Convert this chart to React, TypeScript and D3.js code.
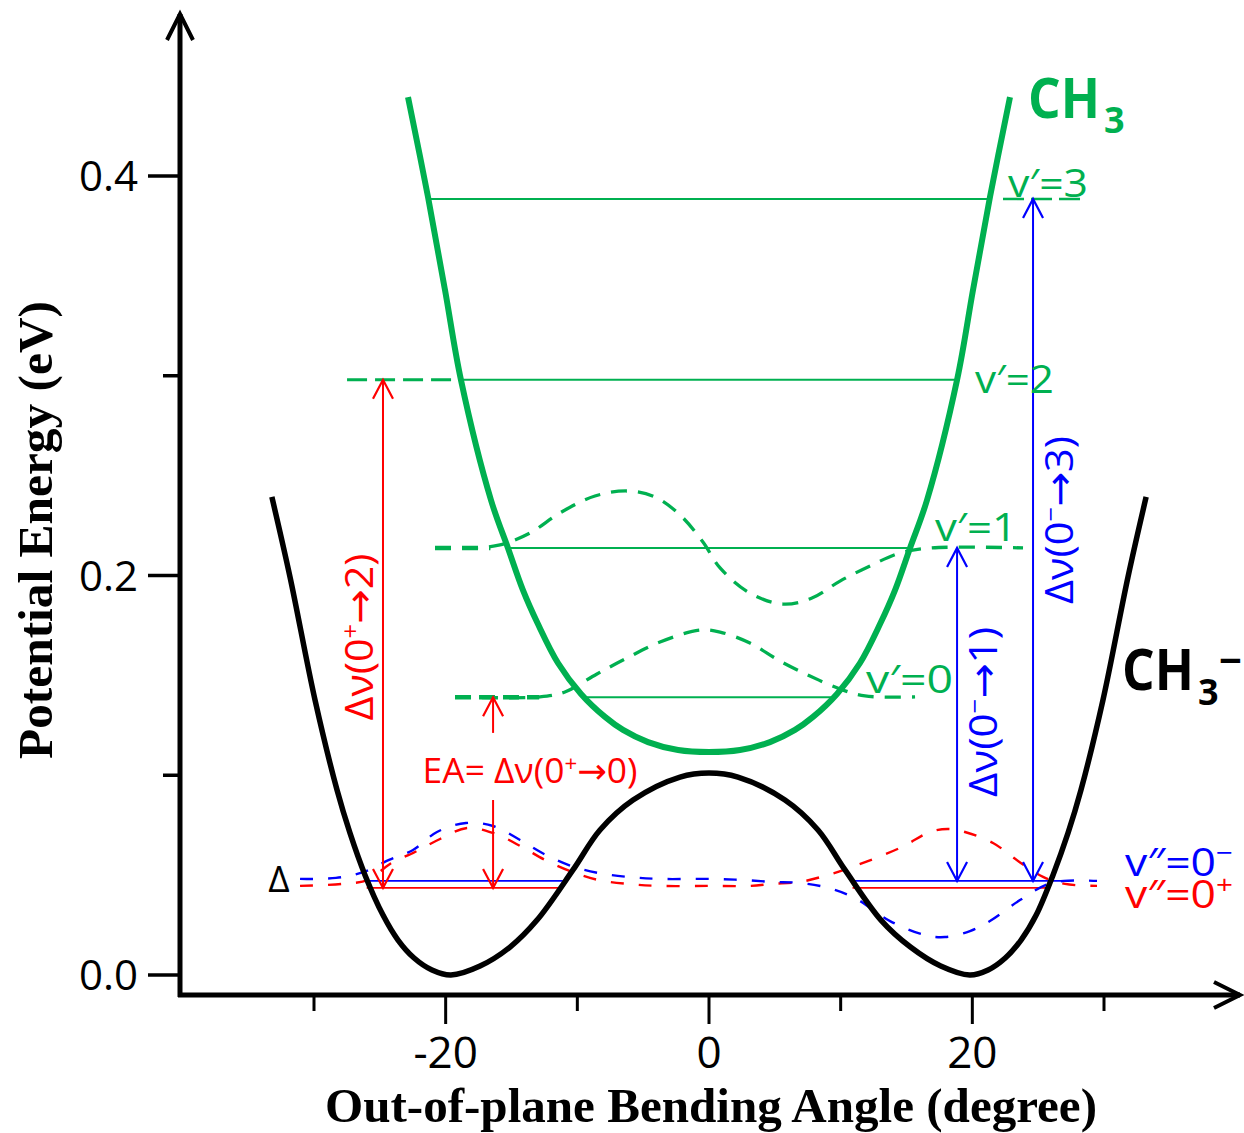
import React from 'react';
import * as d3 from 'd3';

const W = 1244;
const H = 1133;
const GREEN = '#00B050';
const RED = '#FF0000';
const BLUE = '#0000FF';
const SANS = '"Open Sans", "DejaVu Sans", sans-serif';
const SERIF = '"Liberation Serif", "Times New Roman", serif';

// axis ticks
const angleTicks = [-30, -20, -10, 0, 10, 20, 30];
const angleLabelValues = [-20, 0, 20];
const angleTickLabels = ['-20', '0', '20'];
const energyTicks = [0, 0.1, 0.2, 0.3, 0.4];
const energyLabelValues = [0, 0.2, 0.4];
const energyTickLabels = ['0.0', '0.2', '0.4'];

// CH3- potential (black)
const anionAngle = [-33.2, -31.82, -29.92, -28.25, -27.27, -26.13, -24.76, -23.62, -22.4, -21.04, -19.6, -17.39, -15.11, -13.06, -10.33, -8.28, -5.77, -2.2, 0, 2.2, 5.77, 8.28, 10.33, 13.06, 15.3, 17.6, 19.8, 21.2, 22.5, 23.7, 24.85, 26.13, 27.27, 28.25, 29.92, 31.82, 33.2];
const anionEnergy = [0.2393, 0.1992, 0.1376, 0.0926, 0.0711, 0.0501, 0.03, 0.0175, 0.0085, 0.0025, 0, 0.0045, 0.014, 0.0275, 0.0526, 0.0726, 0.0876, 0.0991, 0.1011, 0.0991, 0.0876, 0.0726, 0.0526, 0.0275, 0.014, 0.0045, 0, 0.0025, 0.0085, 0.0175, 0.03, 0.0501, 0.0711, 0.0926, 0.1376, 0.1992, 0.2393];

// CH3 potential (green)
const neutralAngle = [-22.86, -21.34, -20.05, -18.84, -16.56, -15.27, -14.13, -12.99, -11.47, -9.72, -7.9, -6.53, -4.63, -2.35, 0, 2.35, 4.63, 6.53, 7.9, 9.72, 11.47, 12.99, 14.13, 15.27, 16.56, 18.84, 20.05, 21.34, 22.86];
const neutralEnergy = [0.4395, 0.3895, 0.3429, 0.2979, 0.2378, 0.2138, 0.1927, 0.1757, 0.1562, 0.1407, 0.1292, 0.1227, 0.1166, 0.1126, 0.1116, 0.1126, 0.1166, 0.1227, 0.1292, 0.1407, 0.1562, 0.1757, 0.1927, 0.2138, 0.2378, 0.2979, 0.3429, 0.3895, 0.4395];

// CH3 vibrational levels v'=0..3
const neutralLevelNames = ['v\u2032=0', 'v\u2032=1', 'v\u2032=2', 'v\u2032=3'];
const neutralLevels = [0.139, 0.2138, 0.298, 0.3885];
const neutralLevelEdge = [9.6, 15.3, 18.8, 21.3];

// wavefunction v'=1
const wf1Angle = [-20.81, -18.15, -15.87, -13.59, -11.32, -8.66, -6.15, -4.1, -2.2, -0.46, 0.84, 3.11, 5.62, 7.82, 9.95, 12.23, 14.51, 16.78, 23.85];
const wf1Energy = [0.2138, 0.2138, 0.2153, 0.2213, 0.2313, 0.2398, 0.2423, 0.2393, 0.2303, 0.2168, 0.2038, 0.1912, 0.1857, 0.1887, 0.1972, 0.2048, 0.2113, 0.2138, 0.2138];

// wavefunction v'=0
const wf0Angle = [-19.29, -12.84, -10.94, -8.51, -6.23, -3.72, -0.68, 0.84, 3.11, 5.39, 7.67, 9.95, 11.85, 15.65];
const wf0Energy = [0.1392, 0.1392, 0.1417, 0.1507, 0.1587, 0.1667, 0.1727, 0.1717, 0.1662, 0.1572, 0.1497, 0.1432, 0.1397, 0.1392];

// anion wavefunction v''=0+
const plusAngle = [-31.06, -27.87, -25.9, -24.23, -22.33, -20.43, -18.38, -16.4, -14.2, -12.46, -10.4, -8.43, -6.15, -3.72, 0, 3.11, 4.78, 6.91, 9.04, 11.09, 14.66, 16.78, 18.15, 19.44, 21.57, 23.47, 25.37, 27.04, 29.47];
const plusEnergy = [0.0446, 0.0456, 0.0476, 0.0556, 0.0616, 0.0681, 0.0736, 0.0711, 0.0641, 0.0576, 0.0516, 0.0476, 0.0456, 0.0446, 0.0446, 0.0446, 0.0456, 0.0466, 0.0501, 0.0546, 0.0641, 0.0716, 0.0731, 0.0716, 0.0661, 0.0571, 0.0491, 0.0456, 0.0446];

// anion wavefunction v''=0-
const minusAngle = [-31.06, -28.33, -26.2, -24.3, -22.48, -20.66, -18.46, -16.4, -14.35, -12.53, -10.48, -8.43, -6.15, -3.72, 0, 2.51, 4.78, 6.91, 9.04, 11.09, 13.75, 16.4, 17.92, 19.82, 21.34, 23.62, 25.59, 26.96, 29.47];
const minusEnergy = [0.0481, 0.0486, 0.0516, 0.0576, 0.0626, 0.0716, 0.0761, 0.0746, 0.0676, 0.0606, 0.0546, 0.0511, 0.0491, 0.0481, 0.0481, 0.0476, 0.0466, 0.0461, 0.0436, 0.0385, 0.027, 0.02, 0.019, 0.022, 0.027, 0.0375, 0.0451, 0.0471, 0.0471];

// anion levels (solid segments inside the wells)
const anionLevelEnergy = [0.0436, 0.0471]; // 0+, 0-
const anionLeftSpan = [[-26.0, -11.1], [-26.1, -11.1]];
const anionRightSpan = [[10.9, 25.9], [10.9, 26.9]];

// transition arrows
const arrowAngle = [-24.76, 18.84, 24.61];
const arrowFrom = [0.0436, 0.0471, 0.0471];
const arrowTo = [0.298, 0.2138, 0.3885];
const arrowLabelE = [0.1692, 0.1317, 0.2278];
const arrowFinal = ['2', '1', '3'];
const arrowInitialSign = ['+', '\u2212', '\u2212'];

// EA arrow
const eaAngle = -16.4;
const eaGapTop = 0.1212;
const eaGapBottom = 0.0876;

// dashed guide extensions
const v2GuideSpan = [-27.49, -19.29];
const v3GuideSpan = [22.33, 28.56];
const v1TailSpan = [-20.81, -16.6];
const v0TailSpan = [-19.29, -12.9];
const anionSigns = ['+', '\u2212'];

const x = d3.scaleLinear().domain([-30, 30]).range([314, 1104]);
const y = d3.scaleLinear().domain([0, 0.4]).range([975, 176]);

const zip = (a: number[], b: number[]) => a.map((v, i) => [v, b[i]] as [number, number]);
const smooth = d3
  .line<[number, number]>()
  .x((d) => x(d[0]))
  .y((d) => y(d[1]))
  .curve(d3.curveCatmullRom.alpha(0.5));
const straight = d3
  .line<[number, number]>()
  .x((d) => x(d[0]))
  .y((d) => y(d[1]));

function upHead(cx: number, ty: number) {
  return `M${cx - 10},${ty + 19} L${cx},${ty} L${cx + 10},${ty + 19}`;
}
function downHead(cx: number, by: number) {
  return `M${cx - 10},${by - 19} L${cx},${by} L${cx + 10},${by - 19}`;
}

export default function App() {
  const axisX = 180;
  const axisY = 995;
  const colors = [RED, BLUE, BLUE];
  const labelLen = [167, 170, 168];
  return (
    <svg
      width={W}
      height={H}
      viewBox={`0 0 ${W} ${H}`}
      style={{ position: 'absolute', left: 0, top: 0, background: '#fff' }}
    >
      <rect x={0} y={0} width={W} height={H} fill="#fff" />

      {/* axes */}
      <path d={`M${axisX},${axisY + 2} V14`} stroke="#000" strokeWidth={5} fill="none" />
      <path d={`M${axisX - 13},40 L${axisX},14 L${axisX + 13},40`} stroke="#000" strokeWidth={4} fill="none" />
      <path d={`M${axisX - 2},${axisY} H1240`} stroke="#000" strokeWidth={5} fill="none" />
      <path d={`M1214,${axisY - 13} L1240,${axisY} L1214,${axisY + 13}`} stroke="#000" strokeWidth={4} fill="none" />

      {energyTicks.map((t) => {
        const major = energyLabelValues.includes(t);
        return (
          <line key={'ey' + t} x1={major ? axisX - 32 : axisX - 17} x2={axisX} y1={y(t)} y2={y(t)} stroke="#000" strokeWidth={3.5} />
        );
      })}
      {energyLabelValues.map((t, i) => (
        <text key={'el' + t} x={axisX - 42} y={y(t)} dy="0.36em" textAnchor="end" fontFamily={SANS} fontSize={42} fill="#000">
          {energyTickLabels[i]}
        </text>
      ))}

      {angleTicks.map((t) => {
        const major = angleLabelValues.includes(t);
        return (
          <line key={'ax' + t} x1={x(t)} x2={x(t)} y1={axisY} y2={major ? axisY + 29 : axisY + 16} stroke="#000" strokeWidth={3} />
        );
      })}
      {angleLabelValues.map((t, i) => (
        <text key={'al' + t} x={x(t)} y={1068} textAnchor="middle" fontFamily={SANS} fontSize={44} fill="#000">
          {angleTickLabels[i]}
        </text>
      ))}

      <text x={711} y={1122} textAnchor="middle" fontFamily={SERIF} fontWeight="bold" fontSize={49} fill="#000" textLength={772} lengthAdjust="spacingAndGlyphs">
        Out-of-plane Bending Angle (degree)
      </text>
      <text transform={`translate(52,530) rotate(-90)`} textAnchor="middle" fontFamily={SERIF} fontWeight="bold" fontSize={49} fill="#000" textLength={458} lengthAdjust="spacingAndGlyphs">
        Potential Energy (eV)
      </text>

      {/* neutral levels */}
      {neutralLevels.map((e, i) => (
        <path key={'nl' + i} d={straight([[-neutralLevelEdge[i], e], [neutralLevelEdge[i], e]])!} stroke={GREEN} strokeWidth={2} fill="none" />
      ))}
      <path d={straight([[v2GuideSpan[0], neutralLevels[2]], [v2GuideSpan[1], neutralLevels[2]]])!} stroke={GREEN} strokeWidth={3.2} strokeDasharray="20 8" fill="none" />
      <path d={straight([[v3GuideSpan[0], neutralLevels[3]], [v3GuideSpan[1], neutralLevels[3]]])!} stroke={GREEN} strokeWidth={2.5} strokeDasharray="21 7" fill="none" />

      {/* neutral wavefunctions */}
      <path d={smooth(zip(wf1Angle, wf1Energy))!} stroke={GREEN} strokeWidth={3.3} strokeDasharray="16 11" fill="none" />
      <path d={smooth(zip(wf0Angle, wf0Energy))!} stroke={GREEN} strokeWidth={3.3} strokeDasharray="16 11" fill="none" />
      <path d={straight([[v1TailSpan[0], neutralLevels[1]], [v1TailSpan[1], neutralLevels[1]]])!} stroke={GREEN} strokeWidth={4.5} strokeDasharray="16 11" fill="none" />
      <path d={straight([[v0TailSpan[0], neutralLevels[0]], [v0TailSpan[1], neutralLevels[0]]])!} stroke={GREEN} strokeWidth={4.5} strokeDasharray="16 8" fill="none" />

      {/* anion levels */}
      {anionLevelEnergy.map((e, i) => (
        <g key={'alv' + i}>
          <path d={straight([[anionLeftSpan[i][0], e], [anionLeftSpan[i][1], e]])!} stroke={i === 0 ? RED : BLUE} strokeWidth={1.8} fill="none" />
          <path d={straight([[anionRightSpan[i][0], e], [anionRightSpan[i][1], e]])!} stroke={i === 0 ? RED : BLUE} strokeWidth={1.8} fill="none" />
        </g>
      ))}

      {/* anion wavefunctions */}
      <path d={smooth(zip(plusAngle, plusEnergy))!} stroke={RED} strokeWidth={2.4} strokeDasharray="13 15" fill="none" />
      <path d={smooth(zip(minusAngle, minusEnergy))!} stroke={BLUE} strokeWidth={2.4} strokeDasharray="13 15" fill="none" />

      {/* potentials */}
      <path d={smooth(zip(anionAngle, anionEnergy))!} stroke="#000" strokeWidth={5.5} fill="none" />
      <path d={smooth(zip(neutralAngle, neutralEnergy))!} stroke={GREEN} strokeWidth={6} fill="none" />

      {/* transition arrows */}
      {arrowAngle.map((a, i) => {
        const cx = x(a);
        const yb = y(arrowFrom[i]);
        const yt = y(arrowTo[i]);
        const c = colors[i];
        const lx = i === 0 ? cx - 10 : cx + 40;
        return (
          <g key={'ar' + i}>
            <line x1={cx} x2={cx} y1={yb} y2={yt} stroke={c} strokeWidth={2} />
            <path d={upHead(cx, yt)} stroke={c} strokeWidth={2.2} fill="none" />
            <path d={downHead(cx, yb)} stroke={c} strokeWidth={2.2} fill="none" />
            <text transform={`translate(${lx},${y(arrowLabelE[i])}) rotate(-90)`} textAnchor="middle" fontFamily={SANS} fontSize={39} fill={c} textLength={labelLen[i]} lengthAdjust="spacingAndGlyphs">
              {'\u0394\u03BD(0'}
              <tspan dy={-14} fontSize={24}>{arrowInitialSign[i]}</tspan>
              <tspan dy={14}>{'\u2192' + arrowFinal[i] + ')'}</tspan>
            </text>
          </g>
        );
      })}

      {/* EA arrow */}
      <line x1={x(eaAngle)} x2={x(eaAngle)} y1={y(neutralLevels[0])} y2={y(eaGapTop)} stroke={RED} strokeWidth={2} />
      <path d={upHead(x(eaAngle), y(neutralLevels[0]))} stroke={RED} strokeWidth={2.2} fill="none" />
      <line x1={x(eaAngle)} x2={x(eaAngle)} y1={y(eaGapBottom)} y2={y(anionLevelEnergy[0])} stroke={RED} strokeWidth={2} />
      <path d={downHead(x(eaAngle), y(anionLevelEnergy[0]))} stroke={RED} strokeWidth={2.2} fill="none" />
      <text x={x(eaAngle) + 37} y={783} textAnchor="middle" fontFamily={SANS} fontSize={35} fill={RED} textLength={215} lengthAdjust="spacingAndGlyphs">
        {'EA= \u0394\u03BD(0'}
        <tspan dy={-12} fontSize={22}>+</tspan>
        <tspan dy={12}>{'\u21920)'}</tspan>
      </text>

      {/* level labels */}
      <text x={1008} y={197} fontFamily={SANS} fontSize={39} fill={GREEN} textLength={80} lengthAdjust="spacingAndGlyphs">{neutralLevelNames[3]}</text>
      <text x={975} y={393} fontFamily={SANS} fontSize={39} fill={GREEN} textLength={79} lengthAdjust="spacingAndGlyphs">{neutralLevelNames[2]}</text>
      <text x={935} y={541} fontFamily={SANS} fontSize={39} fill={GREEN} textLength={82} lengthAdjust="spacingAndGlyphs">{neutralLevelNames[1]}</text>
      <text x={866} y={693} fontFamily={SANS} fontSize={39} fill={GREEN} textLength={87} lengthAdjust="spacingAndGlyphs">{neutralLevelNames[0]}</text>

      <text x={1125} y={876} fontFamily={SANS} fontSize={39} fill={BLUE} textLength={108} lengthAdjust="spacingAndGlyphs">
        {'v\u2033=0'}
        <tspan dy={-14} fontSize={26}>{anionSigns[1]}</tspan>
      </text>
      <text x={1125} y={908} fontFamily={SANS} fontSize={39} fill={RED} textLength={108} lengthAdjust="spacingAndGlyphs">
        {'v\u2033=0'}
        <tspan dy={-14} fontSize={26}>{anionSigns[0]}</tspan>
      </text>
      <text x={279} y={892} textAnchor="middle" fontFamily={SANS} fontSize={37} fill="#000">{'\u0394'}</text>

      {/* species labels */}
      <text x={1028} y={118} fontFamily={SANS} fontWeight="bold" fontSize={56} fill={GREEN} textLength={72} lengthAdjust="spacingAndGlyphs">CH</text>
      <text x={1104} y={133} fontFamily={SANS} fontWeight="bold" fontSize={36} fill={GREEN}>3</text>
      <text x={1122} y={690} fontFamily={SANS} fontWeight="bold" fontSize={58} fill="#000" textLength={72} lengthAdjust="spacingAndGlyphs">CH</text>
      <text x={1198} y={705} fontFamily={SANS} fontWeight="bold" fontSize={36} fill="#000">3</text>
      <text x={1219} y={675} fontFamily={SANS} fontWeight="bold" fontSize={40} fill="#000">{'\u2212'}</text>
    </svg>
  );
}
